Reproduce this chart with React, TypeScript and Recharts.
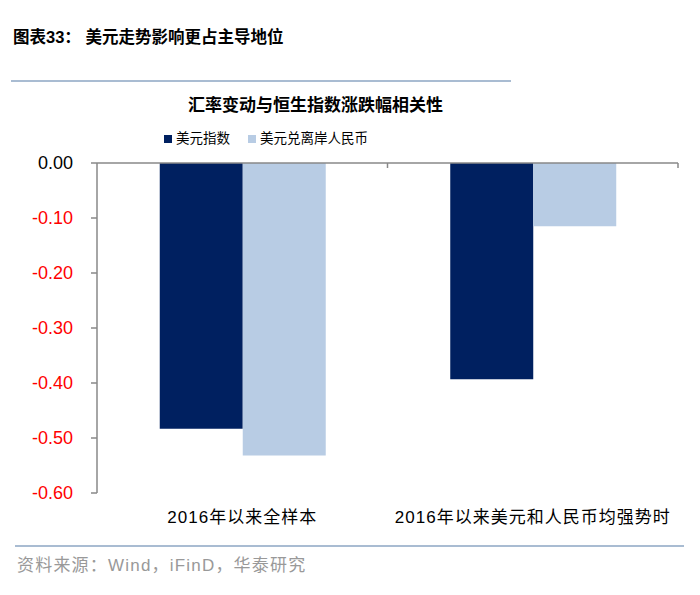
import React from 'react';
import { BarChart, Bar, XAxis, YAxis, Legend, ReferenceLine } from 'recharts';

const categories = ['2016年以来全样本', '2016年以来美元和人民币均强势时'];
const usdIndex = [-0.483, -0.393];
const usdCnh = [-0.532, -0.115];
const yTicks = [0, -0.1, -0.2, -0.3, -0.4, -0.5, -0.6];

const data = categories.map((c, i) => ({ name: c, a: usdIndex[i], b: usdCnh[i] }));

const CJK = '"Liberation Sans", Arial, "Noto Sans CJK SC", sans-serif';

const YTick = (props: any) => {
  const { x, y, payload } = props;
  const v = payload.value as number;
  return (
    <text x={x - 16} y={y} dy={6} textAnchor="end" fontSize={18} fontFamily={CJK} fill={v === 0 ? '#000' : '#ff0000'}>
      {v.toFixed(2)}
    </text>
  );
};

const TopAxis = (props: any) => {
  const { x1, x2, y1 } = props;
  const xm = (x1 + x2) / 2;
  return (
    <g stroke="#888" strokeWidth={1.5}>
      <line x1={x1} x2={x2} y1={y1} y2={y1} />
      <line x1={xm} x2={xm} y1={y1} y2={y1 + 5} />
      <line x1={x2} x2={x2} y1={y1} y2={y1 + 5} />
    </g>
  );
};

export default function App() {
  return (
    <div style={{ position: 'absolute', left: 0, top: 0, width: 700, height: 595, background: '#fff', fontFamily: CJK }}>
      <div style={{ position: 'absolute', left: 13, top: 24, fontSize: 16.5, fontWeight: 'bold', color: '#000', whiteSpace: 'nowrap' }}>
        图表33：&nbsp;美元走势影响更占主导地位
      </div>
      <div style={{ position: 'absolute', left: 11, top: 80, width: 500, height: 2, background: '#A9BCD2' }} />
      <div style={{ position: 'absolute', left: 188, top: 91, fontSize: 17, fontWeight: 'bold', color: '#000', whiteSpace: 'nowrap' }}>
        汇率变动与恒生指数涨跌幅相关性
      </div>
      <BarChart
        width={700}
        height={595}
        data={data}
        margin={{ top: 143, right: 22, bottom: 62, left: 37 }}
        barCategoryGap="21.6%"
        barGap={0}
        style={{ position: 'absolute', left: 0, top: 0 }}
      >
        <XAxis
          dataKey="name"
          axisLine={false}
          tickLine={false}
          height={40}
          tickSize={6}
          tickMargin={12}
          tick={{ fill: '#000', fontSize: 17, fontFamily: CJK, letterSpacing: 1 }}
          interval={0}
        />
        <YAxis
          domain={[-0.6, 0]}
          ticks={yTicks}
          width={60}
          interval={0}
          stroke="#888"
          strokeWidth={1.5}
          tickSize={6}
          tick={<YTick />}
          allowDataOverflow
        />
        <Legend
          verticalAlign="top"
          align="left"
          iconType="square"
          iconSize={8}
          itemSorter="dataKey"
          wrapperStyle={{ position: 'absolute', top: 127, left: 164, width: 'auto', fontSize: 13.5 }}
          formatter={(value: any) => <span style={{ color: '#000', marginRight: 8 }}>{value}</span>}
        />
        <Bar dataKey="a" name="美元指数" fill="#002060" isAnimationActive={false} />
        <Bar dataKey="b" name="美元兑离岸人民币" fill="#B8CCE4" isAnimationActive={false} />
        <ReferenceLine y={0} shape={<TopAxis />} />
      </BarChart>
      <div style={{ position: 'absolute', left: 15, top: 545, width: 669, height: 2, background: '#A9BCD2' }} />
      <div style={{ position: 'absolute', left: 17, top: 551, fontSize: 17, letterSpacing: 1.2, color: '#999', whiteSpace: 'nowrap' }}>
        资料来源：Wind，iFinD，华泰研究
      </div>
    </div>
  );
}
